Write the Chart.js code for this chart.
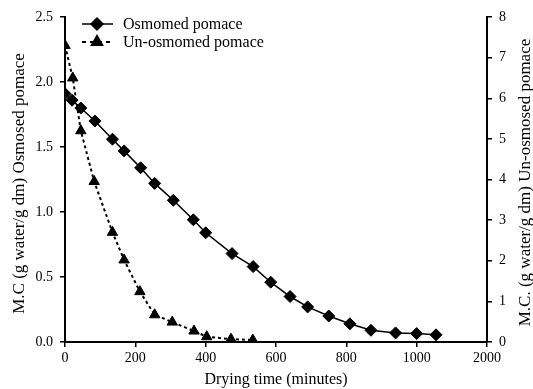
<!DOCTYPE html>
<html>
<head>
<meta charset="utf-8">
<script src="https://cdn.jsdelivr.net/npm/chart.js@4.4.1/dist/chart.umd.min.js"></script>
<style>
  html, body { margin: 0; padding: 0; background: #fff; }
  #wrap { width: 533px; height: 389px; }
</style>
</head>
<body>
<div id="wrap"><canvas id="Chart" width="533" height="389"></canvas></div>
<script>
// drying time (minutes) and moisture content
let osmTime = [0, 20, 45, 85, 135, 168, 215, 255, 308, 365, 400, 475, 535, 585, 640, 690, 750, 810, 870, 940, 1000, 1055];
let osmMC = [1.91, 1.86, 1.80, 1.70, 1.56, 1.47, 1.34, 1.22, 1.09, 0.94, 0.84, 0.68, 0.58, 0.46, 0.35, 0.27, 0.20, 0.14, 0.09, 0.07, 0.065, 0.055];

let unTime = [0, 22, 45, 83, 135, 168, 213, 255, 305, 367, 403, 472, 534];
let unMC = [7.3, 6.5, 5.2, 3.95, 2.7, 2.02, 1.24, 0.67, 0.49, 0.27, 0.13, 0.07, 0.05];

// x tick labels as printed (last one reads 2000)
let xTickLabels = { 0: '0', 200: '200', 400: '400', 600: '600', 800: '800', 1000: '1000', 1200: '2000' };

let leftTitle = 'M.C (g water/g dm) Osmosed pomace';
let rightTitle = 'M.C. (g water/g dm) Un-osmosed pomace';

let serif = '"Liberation Serif", "Times New Roman", serif';

let graph = document.getElementById('Chart');

// legend sits inside the plot, top left
let legendInside = {
    id: 'legendInside',
    afterDatasetsDraw(chart) {
        let ctx = chart.ctx;
        let rows = [{ y: 24, ds: 0 }, { y: 42, ds: 1 }];
        ctx.save();
        rows.forEach(r => {
            let ds = chart.data.datasets[r.ds];
            ctx.beginPath();
            ctx.strokeStyle = '#000';
            ctx.lineWidth = ds.borderWidth;
            ctx.setLineDash(r.ds === 0 ? [] : [4, 4]);
            ctx.moveTo(82, r.y);
            ctx.lineTo(113, r.y);
            ctx.stroke();
            ctx.setLineDash([]);
            Chart.helpers.drawPoint(ctx, {
                pointStyle: ds.pointStyle,
                radius: ds.pointRadius,
                rotation: 0,
                borderWidth: 1
            }, 97, r.y);
            ctx.fillStyle = '#000';
            ctx.fill();
            ctx.font = '16px ' + serif;
            ctx.textBaseline = 'middle';
            ctx.fillText(ds.label, 123, r.y + 1);
        });
        ctx.restore();
    }
};

// both y titles read bottom to top
let yTitles = {
    id: 'yTitles',
    afterDraw(chart) {
        let ctx = chart.ctx;
        let items = [{ text: leftTitle, x: 23.5, y: 183.5 }, { text: rightTitle, x: 530, y: 182.5 }];
        items.forEach(t => {
            ctx.save();
            ctx.translate(t.x, t.y);
            ctx.rotate(-Math.PI / 2);
            ctx.font = '17px ' + serif;
            ctx.fillStyle = '#000';
            ctx.textAlign = 'center';
            ctx.textBaseline = 'alphabetic';
            ctx.fillText(t.text, 0, 0);
            ctx.restore();
        });
    }
};

let axisBase = {
    grid: { display: true, drawOnChartArea: false, drawTicks: true, tickLength: 5, color: '#000', lineWidth: 1.5 },
    border: { display: true, color: '#000', width: 2 },
    ticks: { color: '#000', font: { family: serif, size: 14 }, padding: 7 },
};

let chartdtl = {
    type: 'line',
    data: {
        datasets: [{
            label: 'Osmomed pomace',
            data: osmTime.map((t, i) => ({ x: t, y: osmMC[i] })),
            yAxisID: 'y',
            borderColor: '#000',
            backgroundColor: '#000',
            borderWidth: 1.5,
            pointStyle: 'rectRot',
            pointRadius: 6,
            pointBorderWidth: 1,
            tension: 0,
        }, {
            label: 'Un-osmomed pomace',
            data: unTime.map((t, i) => ({ x: t, y: unMC[i] })),
            yAxisID: 'y2',
            borderColor: '#000',
            backgroundColor: '#000',
            borderWidth: 2,
            borderDash: [3, 3],
            pointStyle: 'triangle',
            pointRadius: 6,
            pointBorderWidth: 1,
            tension: 0,
        }],
    },
    options: {
        responsive: false,
        animation: false,
        layout: { padding: { top: 17, left: 0, right: 0, bottom: 0 } },
        plugins: { legend: { display: false }, tooltip: { enabled: false } },
        scales: {
            x: {
                ...axisBase,
                type: 'linear',
                position: 'bottom',
                min: 0,
                max: 1200,
                ticks: { ...axisBase.ticks, padding: 3, stepSize: 200, maxRotation: 0, callback: v => xTickLabels[v] },
                title: { display: true, text: 'Drying time (minutes)', color: '#000', font: { family: serif, size: 16 }, padding: { top: 0, bottom: 0 } },
                afterFit: s => { s.height = 47; },
            },
            y: {
                ...axisBase,
                position: 'left',
                min: 0,
                max: 2.5,
                ticks: { ...axisBase.ticks, stepSize: 0.5, callback: v => v.toFixed(1) },
                afterFit: s => { s.width = 65; },
            },
            y2: {
                ...axisBase,
                position: 'right',
                min: 0,
                max: 8,
                ticks: { ...axisBase.ticks, stepSize: 1 },
                afterFit: s => { s.width = 46; },
            },
        },
    },
    plugins: [legendInside, yTitles],
};

let presentdata = new Chart(graph, chartdtl);
</script>
</body>
</html>
